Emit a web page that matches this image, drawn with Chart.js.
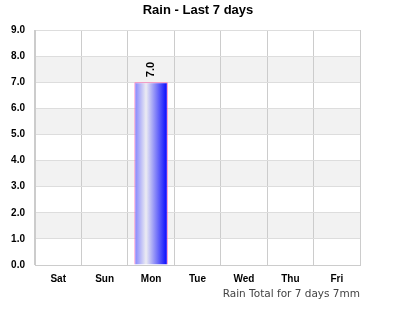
<!doctype html>
<html>
<head>
  <meta charset="utf-8">
  <script src="https://cdn.jsdelivr.net/npm/chart.js@4/dist/chart.umd.min.js"></script>
  <style>
    html, body { margin: 0; padding: 0; background: #fff; }
    #wrap { width: 400px; height: 320px; }
  </style>
</head>
<body>
  <div id="wrap"><canvas id="c"></canvas></div>
  <script>
    const days = ['Sat', 'Sun', 'Mon', 'Tue', 'Wed', 'Thu', 'Fri'];
    const rain = [0, 0, 7.0, 0, 0, 0, 0];
    const yMax = 9;
    const title = 'Rain - Last 7 days';
    const footer = 'Rain Total for 7 days 7mm';

    // grey bands between every other tick
    const bands = {
      id: 'bands',
      beforeDraw(chart) {
        const {ctx, chartArea: a, scales: {y}} = chart;
        ctx.save();
        ctx.fillStyle = '#f2f2f2';
        for (let v = 1; v < yMax; v += 2) {
          const top = y.getPixelForValue(v + 1), bot = y.getPixelForValue(v);
          ctx.fillRect(a.left, top, a.right - a.left, bot - top);
        }
        ctx.restore();
      }
    };

    const texts = {
      id: 'texts',
      afterDatasetsDraw(chart) {
        const {ctx} = chart;
        const meta = chart.getDatasetMeta(0);
        ctx.save();
        ctx.font = 'bold 11px "Liberation Sans", Arial, sans-serif';
        ctx.fillStyle = '#000';
        ctx.textAlign = 'left';
        ctx.textBaseline = 'middle';
        meta.data.forEach((bar, i) => {
          if (!rain[i]) return;
          ctx.save();
          ctx.translate(bar.x, bar.y - 5);
          ctx.rotate(-Math.PI / 2);
          ctx.fillText(rain[i].toFixed(1), 0, 0);
          ctx.restore();
        });
        // title
        ctx.font = 'bold 13px "Liberation Sans", Arial, sans-serif';
        ctx.textAlign = 'center';
        ctx.fillText(title, 198, 10);
        // footer
        ctx.font = '10.5px "DejaVu Sans", sans-serif';
        ctx.fillStyle = '#444';
        ctx.textAlign = 'right';
        ctx.fillText(footer, chart.chartArea.right, 294);
        ctx.restore();
      }
    };

    function barFill(c) {
      const chart = c.chart;
      const x = chart.scales && chart.scales.x;
      if (!chart.chartArea || !x || x.getPixelForValue(c.dataIndex) === undefined) return '#0000ff';
      const cx = x.getPixelForValue(c.dataIndex);
      const w = (x.width / days.length) * 0.72;
      const g = chart.ctx.createLinearGradient(cx - w / 2, 0, cx + w / 2, 0);
      g.addColorStop(0, '#8080ff');
      g.addColorStop(0.35, '#ececf2');
      g.addColorStop(1, '#0000ff');
      return g;
    }

    new Chart(document.getElementById('c'), {
      type: 'bar',
      data: {
        labels: days,
        datasets: [{
          data: rain,
          backgroundColor: barFill,
          borderColor: '#ff6eb4',
          borderWidth: 1
        }]
      },
      options: {
        responsive: true,
        maintainAspectRatio: false,
        animation: false,
        layout: { padding: { left: 4, right: 40, bottom: 27, top: 30 } },
        plugins: {
          legend: { display: false },
          tooltip: { enabled: false },
          title: { display: false }
        },
        scales: {
          x: {
            grid: { color: '#cccccc', drawTicks: false },
            border: { color: '#cccccc' },
            ticks: { color: '#000', padding: 8, font: { family: '"Liberation Sans", Arial, sans-serif', size: 10, weight: 'bold' } }
          },
          y: {
            min: 0, max: yMax,
            grid: { color: '#dddddd', drawTicks: false },
            border: { color: '#cccccc' },
            afterFit(s) { s.width = 31; },
            ticks: {
              stepSize: 1, color: '#000', padding: 10,
              font: { family: '"Liberation Sans", Arial, sans-serif', size: 10, weight: 'bold' },
              callback: v => v.toFixed(1)
            }
          }
        }
      },
      plugins: [bands, texts]
    });
  </script>
</body>
</html>
